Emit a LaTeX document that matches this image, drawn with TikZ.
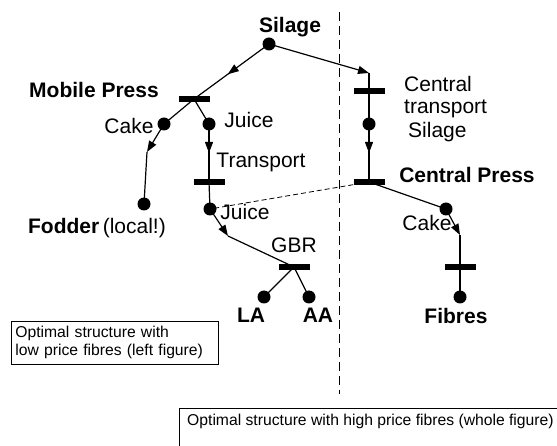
\documentclass[tikz,border=0pt]{standalone}
\usepackage{fontspec}
\setmainfont{Liberation Sans}
\usetikzlibrary{arrows.meta,decorations.markings}
\begin{document}
\begin{tikzpicture}[x=1pt,y=-1pt,
  dot/.style={circle,fill=black,inner sep=0pt,minimum size=13pt},
  bar/.style={rectangle,fill=black,inner sep=0pt,minimum width=31pt,minimum height=5.5pt},
  lbl/.style={inner sep=0pt,font=\fontsize{21}{25}\selectfont},
  blbl/.style={inner sep=0pt,font=\fontsize{21}{25}\selectfont\bfseries},
  edge/.style={line width=1.2pt},
  tip/.style={edge,-{Triangle[length=11pt,width=8pt]}},
  midarrow/.style={edge,decoration={markings,mark=at position #1 with {\arrow{Triangle[length=11pt,width=8pt]}}},postaction={decorate}},
  boxtext/.style={font=\fontsize{15.7}{18}\selectfont}
]
\useasboundingbox (0,0) rectangle (557,446);
% nodes
\node[dot] (silage) at (269,44) {};
\node[bar] (mp) at (194,99) {};
\node[dot] (cake1) at (164,124) {};
\node[dot] (juice1) at (209,124) {};
\node[dot] (fodder) at (144,204) {};
\node[bar] (tr) at (209,182) {};
\node[dot] (juice2) at (210,209) {};
\node[bar] (gbr) at (294,267) {};
\node[dot] (la) at (264,297) {};
\node[dot] (aa) at (309,297) {};
\node[bar] (ct) at (369,91) {};
\node[dot] (cts) at (369,124) {};
\node[bar] (cp) at (369,182) {};
\node[dot] (cake2) at (446,209) {};
\node[bar] (fb) at (460,267) {};
\node[dot] (fibres) at (460,297) {};
% kink coordinates
\coordinate (k1) at (147,152);
\coordinate (k2) at (228,236);
\coordinate (k3) at (369,73);
\coordinate (k4) at (460,235);
\coordinate (dtop) at (339,12);
\coordinate (dbot) at (339,394);
% connectors
\draw[midarrow=0.55] (silage.center) -- (mp.center);
\draw[edge] (mp.center) -- (cake1.center);
\draw[edge] (mp.center) -- (juice1.center);
\draw[tip] (cake1.center) -- (k1);
\draw[edge] (k1) -- (fodder.center);
\draw[midarrow=0.5] (juice1.center) -- (tr.center);
\draw[edge] (tr.center) -- (juice2.center);
\draw[tip] (juice2.center) -- (k2);
\draw[edge] (k2) -- (gbr.center);
\draw[edge] (gbr.center) -- (la.center);
\draw[edge] (gbr.center) -- (aa.center);
\draw[tip] (silage.center) -- (k3);
\draw[edge] (k3) -- (ct.center);
\draw[edge] (ct.center) -- (cts.center);
\draw[midarrow=0.5] (cts.center) -- (cp.center);
\draw[edge] (cp.center) -- (cake2.center);
\draw[tip] (cake2.center) -- (k4);
\draw[edge] (k4) -- (fb.center);
\draw[edge] (fb.center) -- (fibres.center);
\draw[line width=0.8pt,dash pattern=on 5pt off 3pt] (cp.center) -- (juice2.center);
\draw[line width=1pt,dash pattern=on 9pt off 5pt] (dtop) -- (dbot);
% labels
\node[blbl] (tsilage) at (290,27) {Silage};
\node[blbl] (tmp) at (94,90) {Mobile Press};
\node[lbl] (tcake1) at (129,126) {Cake};
\node[lbl] (tjuice1) at (249,120) {Juice};
\node[lbl] (ttr) at (261,162) {Transport};
\node[lbl] (tfodder) at (97,228) {\textbf{Fodder}\,(local!)};
\node[lbl] (tjuice2) at (245,212) {Juice};
\node[lbl] (tgbr) at (294,245) {GBR};
\node[blbl] (tla) at (251,315) {LA};
\node[blbl] (taa) at (318,315) {AA};
\node[lbl,anchor=west] (tc1) at (404,84) {Central};
\node[lbl,anchor=west] (tc2) at (404,109) {transport};
\node[lbl,anchor=west] (tc3) at (408,132) {Silage};
\node[blbl] (tcp) at (467,175) {Central Press};
\node[lbl] (tcake2) at (427,223) {Cake};
\node[blbl] (tfib) at (456,316) {Fibres};
% boxes
\node[draw,line width=0.7pt,boxtext,align=left,text width=199pt,inner sep=4pt,minimum height=43pt,anchor=north west] (lowbox) at (11,321) {Optimal structure with\\low price fibres (left figure)};
\coordinate (hb1) at (179,460);
\coordinate (hb2) at (179,408);
\coordinate (hb3) at (570,408);
\draw[line width=0.7pt] (hb1) -- (hb2) -- (hb3);
\node[boxtext,anchor=west,inner sep=0pt] (highbox) at (187,421) {Optimal structure with high price fibres (whole figure)};
\end{tikzpicture}
\end{document}
